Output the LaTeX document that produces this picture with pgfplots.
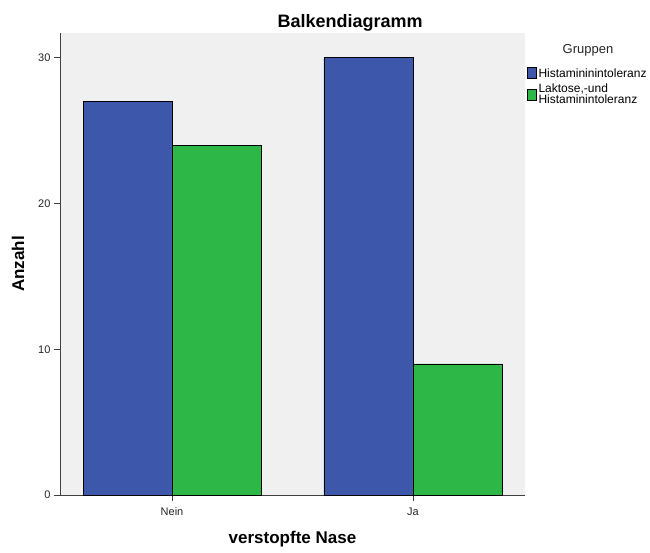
\documentclass[border=0pt]{standalone}
\usepackage{pgfplots}
\pgfplotsset{compat=1.18}
\usepackage{fontspec}
\setmainfont{Liberation Sans}
\definecolor{bblue}{HTML}{3D57AB}
\definecolor{bgreen}{HTML}{2DB747}
\definecolor{bgplot}{HTML}{F0F0F0}
\begin{document}
\begin{tikzpicture}[x=1pt,y=1pt]
\useasboundingbox (-60,-57) rectangle (590,495);
\begin{axis}[
  at={(0,0)}, anchor=south west,
  scale only axis, width=465pt, height=462pt,
  ybar, bar width=89pt,
  ymin=0, ymax=31.7,
  xmin=-0.465, xmax=1.465,
  xtick={0,1}, xticklabels={Nein,Ja},
  ytick={0,10,20,30},
  axis line style={draw=black!75, line width=0.8pt},
  axis x line*=bottom, axis y line*=left,
  tick style={black!75, line width=0.8pt},
  tick align=outside, major tick length=6pt,
  ticklabel style={font=\fontsize{11}{12}\selectfont, text=black!85},
  xticklabel style={yshift=-3pt},
  /pgf/number format/assume math mode=true,
  title={\bfseries Balkendiagramm},
  title style={at={(0.624,1)}, font=\fontsize{18}{20}\selectfont, yshift=-8pt},
  xlabel={\bfseries verstopfte Nase},
  ylabel={\bfseries Anzahl},
  label style={font=\fontsize{17}{19}\selectfont},
  xlabel style={yshift=-9pt},
  ylabel style={yshift=7pt},
  axis background/.style={fill=bgplot},
  legend style={at={(1.004,0.928)}, anchor=north west, draw=none, fill=none,
     font=\fontsize{12}{11}\selectfont, cells={align=left, anchor=west},
     row sep=1.5pt, inner xsep=0pt, inner ysep=0pt},
  legend image code/.code={\draw[#1, draw=black, line width=0.5pt] (0pt,-5pt) rectangle (9pt,6pt);},
  legend cell align=left,
  clip=false,
]
\addplot[fill=bblue, draw=black, line width=0.6pt, bar shift=-44.5pt] coordinates {(0,27) (1,30)};
\addplot[fill=bgreen, draw=black, line width=0.6pt, bar shift=44.5pt] coordinates {(0,24) (1,9)};
\legend{Histamininintoleranz, {Laktose,-und\\Histaminintoleranz}}
\end{axis}
\node[font=\fontsize{13}{15}\selectfont, text=black!85] at (528,445) {Gruppen};
\end{tikzpicture}
\end{document}
